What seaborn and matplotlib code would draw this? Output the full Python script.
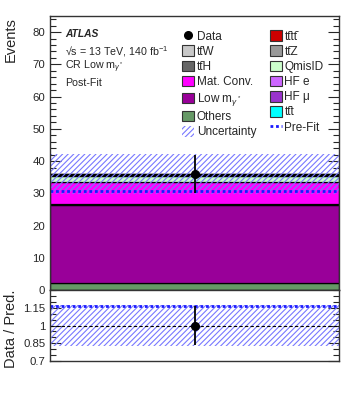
import numpy as np
import pandas as pd
import matplotlib
matplotlib.use("Agg")
import matplotlib.pyplot as plt
import seaborn as sns
from matplotlib.patches import Patch
from matplotlib.lines import Line2D
from matplotlib.ticker import MultipleLocator, FixedLocator

B = "\u0304"  # combining macron -> t-bar
# ---------------- data ----------------
# stack order bottom -> top
processes = ["Others", "Low m$_{\\gamma^*}$", "HF \u03bc", "HF e", "Mat. Conv.", "QmisID",
             "tt" + B + "H", "tt" + B + "Z", "tt" + B + "W", "tt" + B + "t", "tt" + B + "tt" + B]
yields = [2.3, 24.2, 0.05, 0.05, 6.9, 1.8, 0.25, 0.15, 0.35, 0.02, 0.03]
colors = ["#669966", "#990099", "#9933cc", "#cc66ff", "#ff00ff", "#ccffcc",
          "#666666", "#999999", "#c8c8c8", "#00ffff", "#cc0000"]
data_value = [36.0]
data_err = [6.0]
total_unc = [6.2]
prefit_total = [30.8]

# legend order (column-wise)
legend_left = ["Data", "tt" + B + "W", "tt" + B + "H", "Mat. Conv.",
               "Low m$_{\\gamma^*}$", "Others", "Uncertainty"]
legend_right = ["tt" + B + "tt" + B, "tt" + B + "Z", "QmisID", "HF e",
                "HF \u03bc", "tt" + B + "t", "Pre-Fit"]

# --------------- style ----------------
sns.set_style("ticks")
plt.rcParams["font.family"] = ["Liberation Sans", "DejaVu Sans"]
plt.rcParams["mathtext.fontset"] = "custom"
plt.rcParams["mathtext.rm"] = "Liberation Sans"
plt.rcParams["mathtext.it"] = "Liberation Sans:italic"
plt.rcParams["mathtext.bf"] = "Liberation Sans:bold"
plt.rcParams["hatch.linewidth"] = 0.8

W, H = 357, 403
fig = plt.figure(figsize=(W / 100, H / 100), dpi=100)
L, R = 50 / W, 339 / W
ax = fig.add_axes([L, 1 - 290 / H, R - L, (290 - 16) / H])
axr = fig.add_axes([L, 1 - 361 / H, R - L, (361 - 290) / H])

df = pd.DataFrame({"x": [0.5] * len(processes), "w": yields, "proc": processes})
pal = dict(zip(processes, colors))
sns.histplot(data=df, x="x", weights="w", hue="proc", hue_order=processes[::-1],
             multiple="stack", bins=[0, 1], palette=pal, alpha=1,
             edgecolor="black", linewidth=0.9, legend=False, ax=ax)

total = sum(yields)
hatch_col = "#7878ff"
ax.fill_between([0, 1], total - total_unc[0], total + total_unc[0],
                facecolor="none", edgecolor=hatch_col, hatch="//////", linewidth=0)
ax.plot([0, 1], [prefit_total[0]] * 2, color="#1a1aff", ls=(0, (1, 1)), lw=2)
ax.errorbar([0.5], data_value, yerr=data_err, fmt="o", color="black", ms=5.5, lw=1.3)

ax.set_xlim(0, 1)
ax.set_ylim(0, 85)
ax.set_xlabel("")
ax.yaxis.set_major_locator(MultipleLocator(10))
ax.yaxis.set_minor_locator(MultipleLocator(2))
ax.set_xticks([])
ax.tick_params(axis="y", which="both", direction="in", left=True, right=True, labelsize=8.2)
ax.tick_params(axis="y", which="major", length=8, width=0.8)
ax.tick_params(axis="y", which="minor", length=4, width=0.8)

# texts
tx = 0.052
ax.text(tx, 0.936, "ATLAS", transform=ax.transAxes, fontsize=7.4, fontweight="bold",
        fontstyle="italic", va="center")
ax.text(tx, 0.870, "\u221As = 13 TeV, 140 fb$^{-1}$", transform=ax.transAxes, fontsize=7.7, va="center")
ax.text(tx, 0.813, "CR Low m$_{\\gamma^*}$", transform=ax.transAxes, fontsize=7.7, va="center")
ax.text(tx, 0.756, "Post-Fit", transform=ax.transAxes, fontsize=7.7, va="center")

# legend
hmap = {}
for p, c in zip(processes, colors):
    hmap[p] = Patch(facecolor=c, edgecolor="#333333", linewidth=0.8)
hmap["Data"] = Line2D([], [], marker="o", color="black", ls="none", ms=5.5)
hmap["Uncertainty"] = Patch(facecolor="none", edgecolor=hatch_col, hatch="//////", linewidth=0)
hmap["Pre-Fit"] = Line2D([], [], color="#1a1aff", ls=(0, (1, 1)), lw=2)
labels = legend_left + legend_right
handles = [hmap[l] for l in labels]
ax.legend(handles, labels, ncol=2, loc="upper left", bbox_to_anchor=(0.44, 0.965),
          frameon=False, fontsize=8.5, handlelength=1.0, handleheight=1.0,
          handletextpad=0.25, columnspacing=1.15, labelspacing=0.24, borderaxespad=0)

# ratio panel
rel = total_unc[0] / total
axr.fill_between([0, 1], 1 - rel, 1 + rel, facecolor="none", edgecolor=hatch_col,
                 hatch="//////", linewidth=0)
axr.plot([0, 1], [1, 1], color="black", ls=(0, (3, 2)), lw=0.8)
axr.plot([0, 1], [data_value[0] / prefit_total[0]] * 2, color="#1a1aff", ls=(0, (1, 1)), lw=2)
axr.errorbar([0.5], [data_value[0] / total], yerr=[data_err[0] / total], fmt="o",
             color="black", ms=5.5, lw=1.3)
axr.set_xlim(0, 1)
axr.set_ylim(0.7, 1.3)
axr.yaxis.set_major_locator(FixedLocator([0.7, 0.85, 1.0, 1.15]))
axr.set_yticklabels(["0.7", "0.85", "1", "1.15"])
axr.yaxis.set_minor_locator(MultipleLocator(0.05))
axr.set_xticks([])
axr.tick_params(axis="y", which="both", direction="in", left=True, right=True, labelsize=8.2)
axr.tick_params(axis="y", which="major", length=8, width=0.8)
axr.tick_params(axis="y", which="minor", length=4, width=0.8)

# y labels: rotated, top-aligned
for a, txt in ((ax, "Events"), (axr, "Data / Pred.")):
    a.set_ylabel(txt, fontsize=10.5)
    lab = a.yaxis.label
    lab.set_rotation_mode("default")
    lab.set_ha("center")
    lab.set_va("top")
ax.yaxis.set_label_coords((11 - 50) / 289, 1 - 1 / 274)
axr.yaxis.set_label_coords((11 - 50) / 289, 1.0)

for a in (ax, axr):
    for s in a.spines.values():
        s.set_linewidth(1.0)
        s.set_color("#333333")

fig.savefig("out.png", dpi=100)
